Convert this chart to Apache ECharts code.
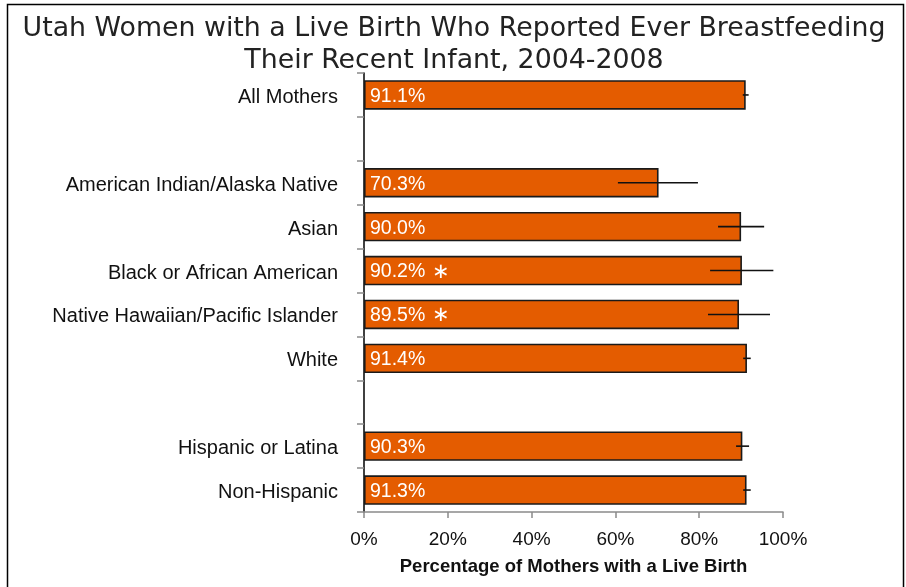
<!DOCTYPE html>
<html>
<head>
<meta charset="utf-8">
<title>Ever Breastfeeding, Utah 2004-2008</title>
<script src="https://cdn.jsdelivr.net/npm/echarts@6/dist/echarts.min.js"></script>
<style>
  html, body { margin: 0; padding: 0; background: #ffffff; }
  #chart { width: 906px; height: 587px; }
</style>
</head>
<body>
<div id="chart"></div>
<script>
// Groups shown on the vertical axis (blank rows separate the three sections)
const categories = [
  'All Mothers',
  '',
  'American Indian/Alaska Native',
  'Asian',
  'Black or African American',
  'Native Hawaiian/Pacific Islander',
  'White',
  '',
  'Hispanic or Latina',
  'Non-Hispanic'
];

// Percent of mothers who ever breastfed
const percentEverBreastfed = [91.1, null, 70.3, 90.0, 90.2, 89.5, 91.4, null, 90.3, 91.3];

// 95% confidence interval bounds
const ciLower = [90.4, null, 60.6, 84.5, 82.6, 82.1, 90.5, null, 88.8, 90.5];
const ciUpper = [91.8, null, 79.7, 95.5, 97.7, 96.9, 92.3, null, 91.9, 92.3];

// Estimates flagged with an asterisk (small sample size)
const flagged = [false, false, false, false, true, true, false, false, false, false];

// Horizontal axis ticks (percent)
const xTicks = [0, 20, 40, 60, 80, 100];

const SANS = '"Liberation Sans", Arial, sans-serif';

const errorData = [];
categories.forEach((c, i) => {
  if (ciLower[i] != null && ciUpper[i] != null) {
    errorData.push([ciLower[i], ciUpper[i], i]);
  }
});

const chart = echarts.init(document.getElementById('chart'), null, { renderer: 'canvas' });

chart.setOption({
  backgroundColor: '#ffffff',
  animation: false,
  title: {
    text: 'Utah Women with a Live Birth Who Reported Ever Breastfeeding\nTheir Recent Infant, 2004-2008',
    left: 449,
    top: 8,
    textAlign: 'center',
    textStyle: {
      fontFamily: '"DejaVu Sans", Verdana, sans-serif',
      fontSize: 26.8,
      fontWeight: 'normal',
      color: '#222222',
      lineHeight: 32
    }
  },
  graphic: [{
    type: 'rect',
    silent: true,
    shape: { x: 7.5, y: 4.5, width: 896, height: 620 },
    style: { fill: 'none', stroke: '#000000', lineWidth: 1.5 }
  }],
  grid: { left: 364, right: 123, top: 73, bottom: 75 },
  xAxis: {
    type: 'value',
    min: xTicks[0],
    max: xTicks[xTicks.length - 1],
    interval: xTicks[1] - xTicks[0],
    name: 'Percentage of Mothers with a Live Birth',
    nameLocation: 'middle',
    nameGap: 45,
    nameTextStyle: { fontFamily: SANS, fontSize: 18.5, fontWeight: 'bold', color: '#111111' },
    axisLine: { show: true, lineStyle: { color: '#8a8a8a', width: 1.5 } },
    axisTick: { show: true, length: 6, lineStyle: { color: '#8a8a8a', width: 1.5 } },
    axisLabel: { formatter: '{value}%', fontFamily: SANS, fontSize: 19, color: '#111111', margin: 18 },
    splitLine: { show: false }
  },
  yAxis: {
    type: 'category',
    inverse: true,
    data: categories,
    axisLine: { show: true, lineStyle: { color: '#000000', width: 1.5 } },
    axisTick: { show: true, length: 7, alignWithLabel: false, lineStyle: { color: '#8a8a8a', width: 1.5 } },
    axisLabel: {
      margin: 26,
      formatter: (v) => (v ? '{c|' + v + '}' : ''),
      rich: {
        c: { fontFamily: SANS, fontSize: 20, color: '#111111', padding: [5, 0, 0, 0] }
      }
    }
  },
  series: [
    {
      type: 'bar',
      data: percentEverBreastfed,
      barWidth: '67%',
      itemStyle: {
        color: '#E45C00',
        borderColor: '#1a1a1a',
        borderWidth: 1.6
      },
      label: {
        show: true,
        position: 'insideLeft',
        distance: 6,
        formatter: (p) => {
          const txt = '{v|' + p.value.toFixed(1) + '%}';
          return flagged[p.dataIndex] ? txt + '  {s|\u2217}' : txt;
        },
        rich: {
          v: { fontFamily: SANS, fontSize: 19.5, color: '#ffffff', padding: [3, 0, 0, 0] },
          s: { fontFamily: '"DejaVu Sans", sans-serif', fontSize: 21, color: '#ffffff', padding: [3, 0, 0, 0] }
        }
      },
      z: 2
    },
    {
      type: 'custom',
      data: errorData,
      encode: { x: [0, 1], y: 2 },
      z: 5,
      renderItem: (params, api) => {
        const a = api.coord([api.value(0), api.value(2)]);
        const b = api.coord([api.value(1), api.value(2)]);
        return {
          type: 'line',
          shape: { x1: a[0], y1: a[1], x2: b[0], y2: b[1] },
          style: { stroke: '#111111', lineWidth: 1.6 }
        };
      }
    }
  ]
});
</script>
</body>
</html>
